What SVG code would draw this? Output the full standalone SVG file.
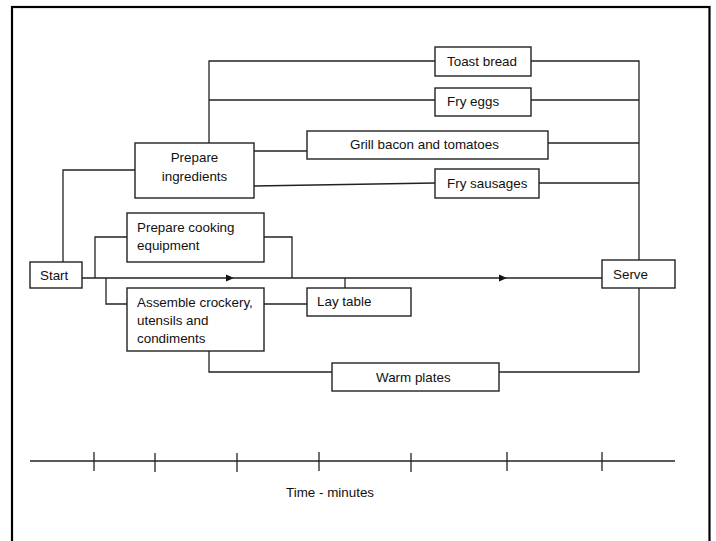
<svg xmlns="http://www.w3.org/2000/svg" width="716" height="541" viewBox="0 0 716 541">
  <style>
    .box { fill: #fff; stroke: #222; stroke-width: 1.4; }
    .wire { fill: none; stroke: #222; stroke-width: 1.3; }
    .lbl { font-family: "Liberation Sans", Arial, sans-serif; font-size: 13.4px; fill: #111; }
    .mid { text-anchor: middle; }
  </style>
  <defs>
    <marker id="tri" viewBox="0 0 8 8" refX="4" refY="4" markerWidth="8" markerHeight="8" markerUnits="userSpaceOnUse" orient="auto">
      <path d="M0,0.5 L8,4 L0,7.5 Z" fill="#111"/>
    </marker>
  </defs>

  <rect width="716" height="541" fill="#fff"/>
  <!-- page frame -->
  <rect x="12" y="7" width="697.5" height="560" fill="none" stroke="#000" stroke-width="2.2"/>

  <!-- connectors -->
  <g id="connectors" class="wire">
    <!-- Start to Prepare ingredients -->
    <polyline points="63,262 63,170 135,170"/>
    <!-- Prepare ingredients to the parallel cooking tasks -->
    <polyline points="209,143 209,61 435,61"/>
    <line x1="209" y1="100" x2="435" y2="100"/>
    <line x1="254" y1="151" x2="307" y2="151"/>
    <line x1="254" y1="186" x2="435" y2="183"/>
    <!-- cooking tasks to Serve -->
    <polyline points="531,61 639,61 639,260"/>
    <line x1="531" y1="100" x2="639" y2="100"/>
    <line x1="548" y1="143" x2="639" y2="143"/>
    <line x1="539" y1="183" x2="639" y2="183"/>
    <!-- main line Start to Serve -->
    <path d="M82,278 L230,278" marker-end="url(#tri)"/>
    <path d="M230,278 L503,278" marker-end="url(#tri)"/>
    <path d="M503,278 L602,278"/>
    <!-- Prepare cooking equipment -->
    <polyline points="95,278 95,237 127,237"/>
    <polyline points="264,237 292,237 292,278"/>
    <!-- Assemble crockery -->
    <polyline points="106,278 106,304 127,304"/>
    <line x1="264" y1="304" x2="307" y2="304"/>
    <line x1="345" y1="278" x2="345" y2="288"/>
    <!-- Warm plates -->
    <polyline points="209,351 209,372 332,372"/>
    <polyline points="499,372 639,372 639,288"/>
  </g>

  <g id="start">
    <rect class="box" x="30" y="262" width="52" height="26"/>
    <text class="lbl" x="40" y="280">Start</text>
  </g>
  <g id="prepare-ingredients">
    <rect class="box" x="135" y="143" width="119" height="55"/>
    <text class="lbl mid" x="194.5" y="162">Prepare</text>
    <text class="lbl mid" x="194.5" y="181">ingredients</text>
  </g>
  <g id="toast-bread">
    <rect class="box" x="435" y="47" width="96" height="29"/>
    <text class="lbl" x="447" y="66">Toast bread</text>
  </g>
  <g id="fry-eggs">
    <rect class="box" x="435" y="88" width="96" height="28"/>
    <text class="lbl" x="447" y="106">Fry eggs</text>
  </g>
  <g id="grill-bacon">
    <rect class="box" x="307" y="131" width="241" height="28"/>
    <text class="lbl" x="350" y="149">Grill bacon and tomatoes</text>
  </g>
  <g id="fry-sausages">
    <rect class="box" x="435" y="169" width="104" height="29"/>
    <text class="lbl" x="447" y="188">Fry sausages</text>
  </g>
  <g id="prepare-equipment">
    <rect class="box" x="127" y="213" width="137" height="49"/>
    <text class="lbl" x="137" y="232">Prepare cooking</text>
    <text class="lbl" x="137" y="250">equipment</text>
  </g>
  <g id="assemble-crockery">
    <rect class="box" x="127" y="288" width="137" height="63"/>
    <text class="lbl" x="137" y="307">Assemble crockery,</text>
    <text class="lbl" x="137" y="325">utensils and</text>
    <text class="lbl" x="137" y="343">condiments</text>
  </g>
  <g id="lay-table">
    <rect class="box" x="307" y="288" width="104" height="28"/>
    <text class="lbl" x="317" y="306">Lay table</text>
  </g>
  <g id="warm-plates">
    <rect class="box" x="332" y="363" width="167" height="28"/>
    <text class="lbl" x="376" y="382">Warm plates</text>
  </g>
  <g id="serve">
    <rect class="box" x="602" y="260" width="73" height="28"/>
    <text class="lbl" x="613" y="279">Serve</text>
  </g>

  <!-- time axis -->
  <g id="time-axis" class="wire">
    <line x1="30" y1="461" x2="675" y2="461"/>
    <line x1="94" y1="452" x2="94" y2="471"/>
    <line x1="155" y1="453" x2="155" y2="472"/>
    <line x1="237" y1="453" x2="237" y2="472"/>
    <line x1="319" y1="452" x2="319" y2="471"/>
    <line x1="411" y1="453" x2="411" y2="472"/>
    <line x1="507" y1="452" x2="507" y2="471"/>
    <line x1="602" y1="452" x2="602" y2="471"/>
  </g>
  <text class="lbl" x="286" y="497">Time - minutes</text>
</svg>
